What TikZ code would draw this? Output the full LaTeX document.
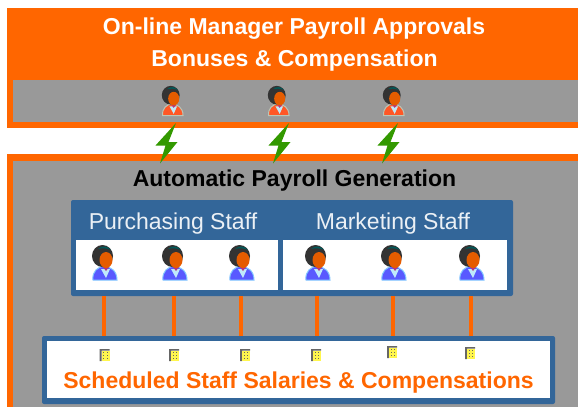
\documentclass[tikz,border=0pt]{standalone}
\usepackage{fontspec}
\setmainfont{Liberation Sans}
\usetikzlibrary{calc}

\definecolor{payorange}{HTML}{FF6600}
\definecolor{paygray}{HTML}{999999}
\definecolor{payblue}{HTML}{336699}
\definecolor{paygreen}{HTML}{339900}

\tikzset{
  panel/.style={inner sep=0pt,outer sep=0pt,minimum width=#1},
  bluepanel/.style={panel=#1,fill=payblue,rounded corners=2pt},
  whitepanel/.style={panel=#1,fill=white},
  link/.style={payorange,line width=4.5pt},
  person/.pic={
    \filldraw[fill=#1,draw=#1!55!cyan!60!white,line width=1pt] (-11,16) .. controls (-12,7) and (-6,3) .. (0,2)
              .. controls (6,3) and (13,6) .. (13,16) -- cycle;
    \fill[cyan!25!white] (-3,5) -- (6,5) -- (2,14) -- cycle;
    \fill[magenta!70!black] (-1,3) -- (5,3) -- (2,7) -- cycle;
    \fill[black!80] (-1.5,-8) ellipse (10.5 and 11);
    \fill[teal!70!black] (-6,-15) .. controls (-2,-19) and (4,-18) .. (7,-14)
              .. controls (3,-16) and (-2,-16) .. (-6,-15) -- cycle;
    \fill[payorange!90!black] (2,-4) ellipse (6.5 and 8);
  },
  building/.pic={
    \fill[black!60] (-5,-6) -- (5,-6) -- (5,-4.5) -- (-3,-4.5) -- (-3,6) -- (-5,6) -- cycle;
    \fill[yellow!70!white] (-3,-4.5) rectangle (5,6);
    \foreach \u in {-1.5,2} {
      \foreach \v in {-3,0,3} {\fill[black!60] (\u,\v) rectangle +(1.2,1.2);};
    };
  },
  bolt/.pic={
    \fill[paygreen] (0,0) -- (-20.5,22.5) -- (-10.5,22.5) -- (-16,40.5)
                    -- (1.5,19) -- (-7.5,19) -- cycle;
  }
}

\begin{document}
\begin{tikzpicture}[x=1pt,y=-1pt]
    \useasboundingbox (0,0) rectangle (578,407);

    % backgrounds
    \fill[payorange] (7,8) rectangle (578,128);
    \fill[paygray] (13,79.5) rectangle (578,121.5);
    \fill[payorange] (7,154) rectangle (578,407);
    \fill[paygray] (13,161) rectangle (578,407);

    \node[text=white,font=\bfseries\fontsize{23}{23}\selectfont] (title1) at (294,29) {On-line Manager Payroll Approvals};
    \node[text=white,font=\bfseries\fontsize{23}{23}\selectfont] (title2) at (294.5,61) {Bonuses \& Compensation};
    \node[text=black,font=\bfseries\fontsize{23}{23}\selectfont] (autotitle) at (294.5,181) {Automatic Payroll Generation};

    % staff and salary boxes
    \node[bluepanel=442pt,minimum height=96pt] (staffbox) at (292,248) {};
    \node[whitepanel=202pt,minimum height=50pt] (purchasing) at (177,265) {};
    \node[whitepanel=224pt,minimum height=50pt] (marketing) at (395,265) {};
    \node[bluepanel=513pt,minimum height=68pt] (salarybox) at (298.5,370) {};
    \node[whitepanel=503pt,minimum height=57pt] (salaries) at (298.5,369.5) {};

    \node[text=white!90!payblue,font=\fontsize{23}{23}\selectfont] (purchtitle) at (173,223.5) {Purchasing Staff};
    \node[text=white!90!payblue,font=\fontsize{23}{23}\selectfont] (markettitle) at (393,223.5) {Marketing Staff};
    \node[text=payorange,font=\bfseries\fontsize{23}{23}\selectfont] (salarytitle) at (298.5,383) {Scheduled Staff Salaries \& Compensations};

    % staff, links and buildings
    \foreach \i/\x/\bx/\by in {1/104/104.5/355,2/174/174/355,3/241/245/355,4/317/316/355,5/393/392/352,6/471/470/353} {
      \coordinate (staff-\i) at (\x,264);
      \coordinate (bldg-\i) at (\bx,\by);
      \draw[link] (staffbox.south -| staff-\i) -- (salarybox.north -| staff-\i);
      \pic at (staff-\i) {person=blue!65!white};
      \pic at (bldg-\i) {building};
    };

    % managers and bolts
    \foreach \i/\x/\bx in {1/172/176,2/278/289,3/393/398} {
      \coordinate (manager-\i) at (\x,102);
      \coordinate (bolt-\i) at (\bx,123);
      \pic[scale=0.85] at (manager-\i) {person=payorange!85!magenta};
      \pic at (bolt-\i) {bolt};
    };
 \end{tikzpicture}
\end{document}
